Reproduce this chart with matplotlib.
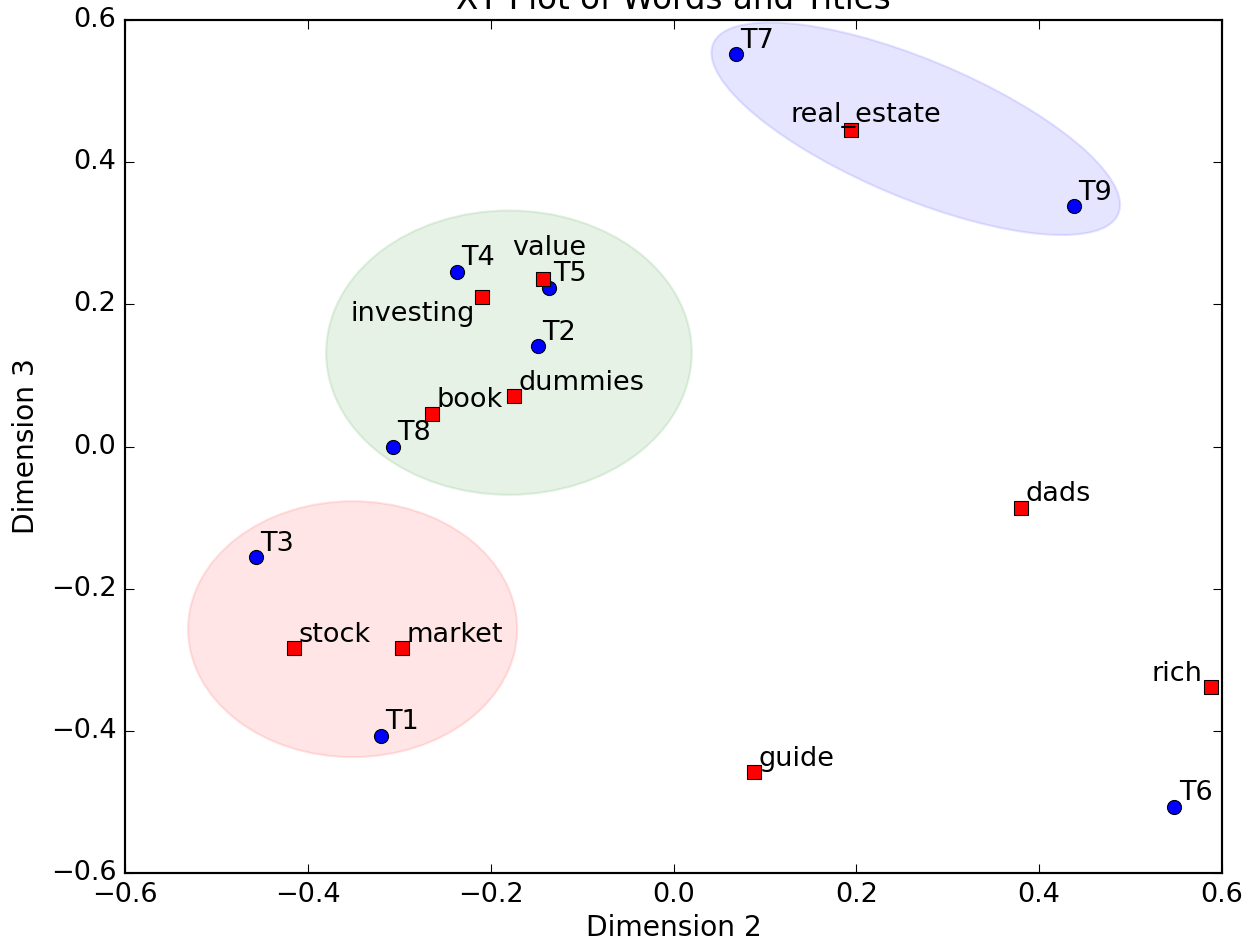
import matplotlib
matplotlib.use("Agg")
import matplotlib.pyplot as plt
from matplotlib.patches import Ellipse

# ---------------- DATA ----------------
title_labels = ["T1", "T2", "T3", "T4", "T5", "T6", "T7", "T8", "T9"]
title_x = [-0.320, -0.148, -0.457, -0.237, -0.136, 0.548, 0.068, -0.307, 0.438]
title_y = [-0.407, 0.141, -0.156, 0.246, 0.223, -0.507, 0.552, 0.000, 0.338]

word_labels = ["book", "dads", "dummies", "real_estate", "guide",
               "investing", "market", "rich", "stock", "value"]
word_x = [-0.264, 0.380, -0.174, 0.194, 0.088, -0.210, -0.297, 0.588, -0.415, -0.143]
word_y = [0.046, -0.086, 0.071, 0.445, -0.458, 0.211, -0.284, -0.339, -0.284, 0.235]

# cluster ellipses: center x, center y, width, height, angle, colour
cluster_cx = [-0.351, -0.180, 0.265]
cluster_cy = [-0.257, 0.132, 0.447]
cluster_w = [0.36, 0.40, 0.505]
cluster_h = [0.36, 0.40, 0.185]
cluster_angle = [0, 0, -30]
cluster_color = ["r", "g", "b"]

# label placement (offset points, alignment) where default doesn't fit
DEFAULT_OFF = (2, 3, "left")
label_offsets = {
    "investing": (-3, -11.5, "right"),
    "value": (-14, 11.5, "left"),
    "rich": (-4, 3, "right"),
    "real_estate": (-28, 4, "left"),
}

# ---------------- PLOT ----------------
plt.style.use("classic")
plt.rcParams["font.size"] = 12.5

fig = plt.figure(figsize=(1247 / 156, 942 / 156), dpi=156, facecolor="white")
ax = fig.add_axes([125 / 1247, 1 - 873 / 942, (1222 - 125) / 1247, (873 - 20) / 942])

for cx, cy, w, h, a, c in zip(cluster_cx, cluster_cy, cluster_w, cluster_h,
                              cluster_angle, cluster_color):
    ax.add_patch(Ellipse((cx, cy), w, h, angle=a, color=c, alpha=0.1, zorder=1))

ax.plot(title_x, title_y, "bo", markersize=6.5, zorder=3)
ax.plot(word_x, word_y, "rs", markersize=6.5, zorder=4)

for lab, x, y in zip(title_labels, title_x, title_y):
    ax.annotate(lab, (x, y), xytext=(2, 3), textcoords="offset points",
                ha="left", va="baseline", zorder=5)

for lab, x, y in zip(word_labels, word_x, word_y):
    dx, dy, ha = label_offsets.get(lab, DEFAULT_OFF)
    ax.annotate(lab, (x, y), xytext=(dx, dy), textcoords="offset points",
                ha=ha, va="baseline", zorder=5)

ax.set_xlim(-0.6, 0.6)
ax.set_ylim(-0.6, 0.6)
ax.set_xticks([-0.6, -0.4, -0.2, 0.0, 0.2, 0.4, 0.6])
ax.set_yticks([-0.6, -0.4, -0.2, 0.0, 0.2, 0.4, 0.6])
ax.set_xlabel("Dimension 2", fontsize=13, labelpad=3)
ax.set_ylabel("Dimension 3", fontsize=13)
ax.set_title("XY Plot of Words and Titles")

fig.savefig("out.png", dpi=156, facecolor="white")
